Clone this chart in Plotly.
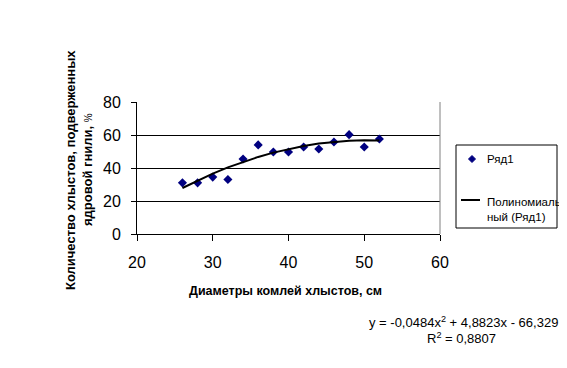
import plotly.graph_objects as go

# Data
diam = [26, 28, 30, 32, 34, 36, 38, 40, 42, 44, 46, 48, 50, 52]
share = [31, 31, 34.5, 33, 45.5, 54, 49.7, 49.7, 52.7, 51.5, 55.8, 60.2, 52.7, 57.6]
# polynomial trendline coefficients shown on the chart (a*x^2 + b*x + c)
coef = [-0.0484, 4.8823, -66.329]
x_ticks = [20, 30, 40, 50, 60]
y_ticks = [0, 20, 40, 60, 80]
series_name = "Ряд1"
trend_name = "Полиномиаль<br>ный (Ряд1)"

trend = [coef[0] * x * x + coef[1] * x + coef[2] for x in diam]

FONT = "Liberation Sans, Arial, sans-serif"
OFF = 8  # page body margin
W, H = 567 - OFF, 368 - OFF
ML, MT = 137 - OFF, 102 - OFF
PW, PH = 303, 132
MR = W - ML - PW
MB = H - MT - PH


def px(x):
    return (x - OFF - ML) / PW


def py(y):
    return (MT + PH - (y - OFF)) / PH


fig = go.Figure()
fig.add_trace(go.Scatter(
    x=diam, y=share, mode="markers", name=series_name,
    marker=dict(symbol="diamond", size=7, color="#000080"),
))
fig.add_trace(go.Scatter(
    x=diam, y=trend, mode="lines", name=trend_name,
    line=dict(color="black", width=2),
))

# manual legend (box, symbols, labels)
lx0, lx1, ly0, ly1 = 456, 557, 145, 228
legend_shapes = [
    dict(type="rect", xref="paper", yref="paper",
         x0=px(lx0), x1=px(lx1), y0=py(ly1), y1=py(ly0),
         line=dict(color="black", width=1), fillcolor="white"),
    dict(type="path", xref="paper", yref="paper",
         path="M {a},{b} L {c},{d} L {e},{b} L {c},{f} Z".format(
             a=px(468.5), b=py(159), c=px(472), d=py(155.5), e=px(475.5), f=py(162.5)),
         line=dict(color="#000080", width=1), fillcolor="#000080"),
    dict(type="line", xref="paper", yref="paper",
         x0=px(461), x1=px(480), y0=py(200), y1=py(200),
         line=dict(color="black", width=2)),
]

fig.update_layout(
    width=W, height=H,
    margin=dict(l=ML, r=MR, t=MT, b=MB),
    paper_bgcolor="white", plot_bgcolor="white",
    font=dict(family=FONT, color="black"),
    showlegend=False,
    xaxis=dict(
        range=[20, 60], tickvals=x_ticks, showgrid=False,
        showline=True, linecolor="black", linewidth=1,
        ticks="outside", ticklen=6, tickcolor="black",
        tickfont=dict(size=16), zeroline=False,
        ticklabelstandoff=8,
    ),
    yaxis=dict(
        range=[0, 80], tickvals=y_ticks, showgrid=True,
        gridcolor="black", gridwidth=1,
        showline=True, linecolor="black", linewidth=1,
        ticks="outside", ticklen=5, tickcolor="black",
        tickfont=dict(size=16), zeroline=False,
        ticklabelstandoff=7,
    ),
    shapes=[dict(type="line", xref="x domain", yref="y domain", x0=1, x1=1, y0=0, y1=1,
                 line=dict(color="#808080", width=1))] + legend_shapes,
    annotations=[
        dict(text="<b>Диаметры комлей хлыстов, см</b>", xref="paper", yref="paper",
             x=px(285), y=py(291), showarrow=False, font=dict(size=12.5),
             xanchor="center", yanchor="middle"),
        dict(text="<b>Количество хлыстов, подверженных</b>", xref="paper", yref="paper",
             x=px(70), y=py(170), showarrow=False, textangle=-90, font=dict(size=13),
             xanchor="center", yanchor="middle"),
        dict(text="<b>ядровой гнили, </b><span style='font-size:10px'>%</span>",
             xref="paper", yref="paper",
             x=px(87), y=py(170), showarrow=False, textangle=-90, font=dict(size=13),
             xanchor="center", yanchor="middle"),
        dict(text="y = -0,0484x<sup>2</sup> + 4,8823x - 66,329", xref="paper", yref="paper",
             x=px(367), y=py(322), showarrow=False, font=dict(size=13),
             xanchor="left", yanchor="middle"),
        dict(text="R<sup>2</sup> = 0,8807", xref="paper", yref="paper",
             x=px(461), y=py(338), showarrow=False, font=dict(size=13),
             xanchor="center", yanchor="middle"),
        dict(text=series_name, xref="paper", yref="paper",
             x=px(485), y=py(159), showarrow=False, font=dict(size=11.5),
             xanchor="left", yanchor="middle"),
        dict(text=trend_name, xref="paper", yref="paper", align="left",
             x=px(485), y=py(209), showarrow=False, font=dict(size=11.5),
             xanchor="left", yanchor="middle"),
    ],
)

fig.write_html("out.html")
